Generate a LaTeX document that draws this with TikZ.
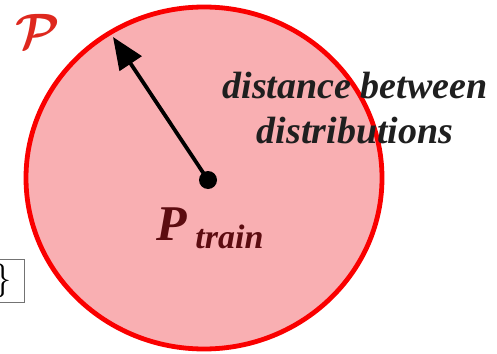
\documentclass[tikz,border=0pt]{standalone}
\usepackage{fontspec}
\usepackage{amsmath}
\usepackage{bm}
\setmainfont{Liberation Serif}
\usepackage{xcolor}
\usetikzlibrary{arrows.meta, positioning, calc}
\definecolor{merah}{RGB}{250,0,0}
\definecolor{merahmuda}{RGB}{249,175,178}
\definecolor{marun}{RGB}{92,12,16}
\definecolor{merahP}{RGB}{222,40,30}

\begin{document}
\begin{tikzpicture}[
    x=0.5pt, y=-0.5pt,
    wilayah/.style={draw=merah, line width=2.4pt, fill=merahmuda},
    panah/.style={-{Triangle[length=16pt, width=13pt]}, line width=1.9pt},
    teks/.style={align=center, font=\fontsize{19}{22.5}\selectfont\bfseries\itshape,
                 text=black!88}
  ]
    \useasboundingbox (0,0) rectangle (497,353);
    % kotak terpotong di kiri
    \node[draw=black!55, line width=0.6pt, minimum height=19pt, minimum width=30pt,
          anchor=east, inner sep=2pt, font=\fontsize{16}{18}\selectfont] (k) at (25,281) {$\rho\}$};
    \draw[wilayah] (204,178) ellipse [x radius=178, y radius=171];
    \node[text=merahP, font=\fontsize{29}{31}\selectfont] (p) at (38,31) {$\bm{\mathcal{P}}$};
    \fill (208,180) circle [radius=9];
    \coordinate (o) at (208,180);
    \coordinate (t) at (113,37);
    \draw[panah] (o) -- (t);
    \node[teks] (d) at (355,108) {distance between\\distributions};
    \node[text=marun, font=\bfseries\itshape, inner sep=0pt, anchor=base] (pt) at (210,240)
      {\fontsize{25}{27}\selectfont P\,\raisebox{-4pt}{\fontsize{17}{19}\selectfont train}};
  \end{tikzpicture}
\end{document}
